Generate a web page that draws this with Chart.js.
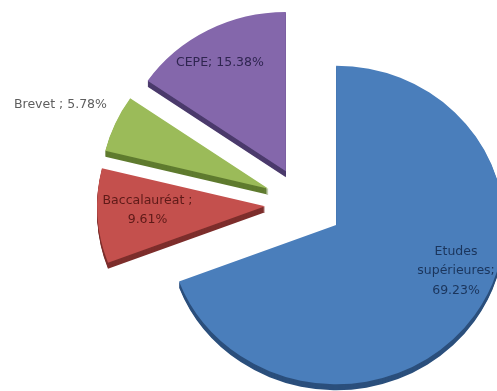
<!DOCTYPE html>
<html>
<head>
<meta charset="utf-8">
<script src="https://cdn.jsdelivr.net/npm/chart.js@4/dist/chart.umd.min.js"></script>
<style>
  html, body { margin: 0; padding: 0; width: 497px; height: 391px; overflow: hidden; background: #ffffff; }
  #wrap { position: absolute; left: 4px; top: -96px; width: 600px; height: 600px; }
</style>
</head>
<body>
<div id="wrap"><canvas id="chart"></canvas></div>
<script>
// ---- data ----
const categories = ['Etudes supérieures', 'Baccalauréat', 'Brevet', 'CEPE'];
const values = [69.23, 9.61, 5.78, 15.38];
const separators = ['; ', ' ; ', ' ; ', '; '];

// ---- styles ----
const sliceColors = ['#4a7ebb', '#c4504d', '#9bbb59', '#8467ab'];
const sideColors = ['#2b4f7c', '#7d2e2c', '#5f7b2f', '#4b3a6c'];
const textColors = ['#1b355c', '#5e1a18', '#5e5e5e', '#2f2550'];

const explode3d = {
  id: 'explode3d',
  beforeDatasetsDraw(chart, args, opts) {
    const ctx = chart.ctx;
    const arcs = chart.getDatasetMeta(0).data;
    const cx = arcs[0].x, cy = arcs[0].y;
    const pass = (dy, cols) => {
      arcs.forEach((el, i) => {
        const mid = (el.startAngle + el.endAngle) / 2;
        ctx.save();
        ctx.translate(cx, cy + dy);
        ctx.scale(1, opts.tilt);
        ctx.translate(Math.cos(mid) * opts.explode, Math.sin(mid) * opts.explode);
        ctx.translate(-cx, -cy);
        if (cols) {
          const p = Object.create(el);
          p.options = Object.assign({}, el.options, { backgroundColor: cols[i], borderColor: cols[i] });
          el.draw.call(p, ctx);
        } else {
          el.draw(ctx);
        }
        ctx.restore();
      });
    };
    for (let d = opts.depth; d > 0; d--) pass(d, sideColors);
    pass(0, null);
    return false;
  },
  afterDraw(chart, args, opts) {
    const ctx = chart.ctx;
    const arcs = chart.getDatasetMeta(0).data;
    const cx = arcs[0].x, cy = arcs[0].y;
    ctx.save();
    ctx.font = opts.font;
    ctx.textAlign = 'center';
    ctx.textBaseline = 'middle';
    arcs.forEach((el, i) => {
      const mid = (el.startAngle + el.endAngle) / 2;
      const pl = opts.placement[i];
      const a = (pl.angle - 90) * Math.PI / 180;
      const R = el.outerRadius;
      const ux = Math.cos(mid) * opts.explode + Math.cos(a) * pl.r * R;
      const uy = Math.sin(mid) * opts.explode + Math.sin(a) * pl.r * R;
      const x = cx + ux, y = cy + uy * opts.tilt;
      const text = categories[i] + separators[i] + values[i].toFixed(2) + '%';
      // word wrap
      const words = text.split(' ');
      const lines = [];
      let cur = '';
      words.forEach(w => {
        const t = cur ? cur + ' ' + w : w;
        if (cur && ctx.measureText(t).width > pl.wrap) { lines.push(cur); cur = w; }
        else cur = t;
      });
      if (cur) lines.push(cur);
      ctx.fillStyle = textColors[i];
      const lh = opts.lineHeight;
      lines.forEach((ln, k) => {
        ctx.fillText(ln, x, y + (k - (lines.length - 1) / 2) * lh);
      });
    });
    ctx.restore();
  }
};

new Chart(document.getElementById('chart'), {
  type: 'pie',
  data: {
    labels: categories,
    datasets: [{
      data: values,
      backgroundColor: sliceColors,
      borderWidth: 0
    }]
  },
  options: {
    responsive: true,
    maintainAspectRatio: false,
    animation: false,
    radius: 168,
    layout: { padding: 0 },
    plugins: {
      legend: { display: false },
      tooltip: { enabled: false },
      explode3d: {
        explode: 39,
        tilt: 0.948,
        depth: 6,
        font: '12.5px "DejaVu Sans"',
        lineHeight: 19.5,
        placement: [
          { angle: 112, r: 0.77, wrap: 85 },
          { angle: 268, r: 0.70, wrap: 100 },
          { angle: 293, r: 1.345, wrap: 300 },
          { angle: 330, r: 0.785, wrap: 300 }
        ]
      }
    }
  },
  plugins: [explode3d]
});
</script>
</body>
</html>
